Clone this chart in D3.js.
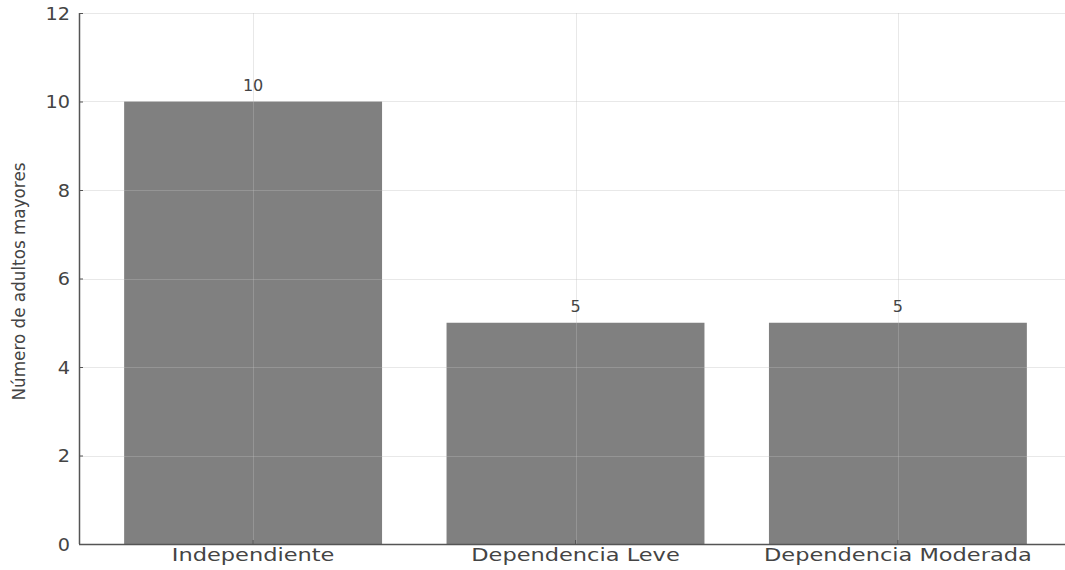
<!DOCTYPE html>
<html>
<head>
<meta charset="utf-8">
<script src="https://cdn.jsdelivr.net/npm/d3@7"></script>
<style>
  html, body { margin: 0; padding: 0; background: #fff; }
  svg { display: block; }
  text { font-family: "DejaVu Sans", sans-serif; }
</style>
</head>
<body>
<svg id="chart" width="1065" height="570"></svg>
<script>
const categories = ["Independiente", "Dependencia Leve", "Dependencia Moderada"];
const values = [10, 5, 5];
const yTicks = [0, 2, 4, 6, 8, 10, 12];
const yLabel = "Número de adultos mayores";

const svg = d3.select("#chart");
const W = 1065, H = 570;
const mLeft = 79, mRight = 1072, mTop = 13, mBottom = 544;

const x = d3.scaleBand().domain(categories).range([mLeft, mRight])
  .paddingInner(0.2).paddingOuter(0.14);
const y = d3.scaleLinear().domain([0, 12]).range([mBottom, mTop]);

// bars
svg.append("g").selectAll("rect").data(categories).join("rect")
  .attr("x", d => x(d))
  .attr("y", (d, i) => y(values[i]))
  .attr("width", x.bandwidth())
  .attr("height", (d, i) => y(0) - y(values[i]))
  .attr("fill", "#808080");

// grid (drawn above bars, semi-transparent)
const grid = svg.append("g").attr("stroke", "rgb(190,190,190)").attr("stroke-opacity", 0.35).attr("stroke-width", 1);
grid.selectAll("line.h").data(yTicks.filter(t => t > 0)).join("line").attr("class", "h")
  .attr("x1", mLeft).attr("x2", W)
  .attr("y1", d => Math.round(y(d)) + 0.5).attr("y2", d => Math.round(y(d)) + 0.5);
grid.selectAll("line.v").data(categories).join("line").attr("class", "v")
  .attr("x1", d => Math.round(x(d) + x.bandwidth() / 2) + 0.5)
  .attr("x2", d => Math.round(x(d) + x.bandwidth() / 2) + 0.5)
  .attr("y1", mTop).attr("y2", mBottom);

// y axis
const yAxis = d3.axisLeft(y).tickValues(yTicks).tickSize(-4).tickPadding(0).tickFormat(d3.format("d"));
const gy = svg.append("g").attr("transform", `translate(${mLeft},0)`).call(yAxis);
gy.select(".domain").attr("stroke", "#555").attr("stroke-width", 1.5).attr("d", `M0.5,${mTop}V${mBottom}`);
gy.selectAll(".tick line").attr("stroke", "#555").attr("stroke-width", 1);
gy.selectAll(".tick text")
  .attr("x", null).attr("dy", null)
  .attr("font-size", 17.5).attr("fill", "#444")
  .attr("text-anchor", "end")
  .attr("dominant-baseline", "central")
  .attr("transform", "translate(-9,0) scale(1.1,1)");

// x axis
const xAxis = d3.axisBottom(x).tickSize(-4).tickPadding(0);
const gx = svg.append("g").attr("transform", `translate(0,${mBottom})`).call(xAxis);
gx.select(".domain").attr("stroke", "#555").attr("stroke-width", 1.5).attr("d", `M${mLeft},0.5H${W}`);
gx.selectAll(".tick line").attr("stroke", "#555").attr("stroke-width", 1);
gx.selectAll(".tick text")
  .attr("y", null).attr("dy", null)
  .attr("font-size", 18).attr("fill", "#444")
  .attr("text-anchor", "middle")
  .attr("transform", "translate(0,17) scale(1.25,1)");

// value labels
svg.append("g").selectAll("text").data(categories).join("text")
  .attr("transform", (d, i) => `translate(${x(d) + x.bandwidth() / 2},${y(values[i]) - 11}) scale(1.07,1)`)
  .attr("text-anchor", "middle")
  .attr("font-size", 15).attr("fill", "#444")
  .text((d, i) => values[i]);

// y label
svg.append("text")
  .attr("transform", `translate(25,${(mTop + mBottom) / 2 + 3}) rotate(-90)`)
  .attr("text-anchor", "middle")
  .attr("font-size", 16.8).attr("fill", "#444")
  .text(yLabel);
</script>
</body>
</html>
